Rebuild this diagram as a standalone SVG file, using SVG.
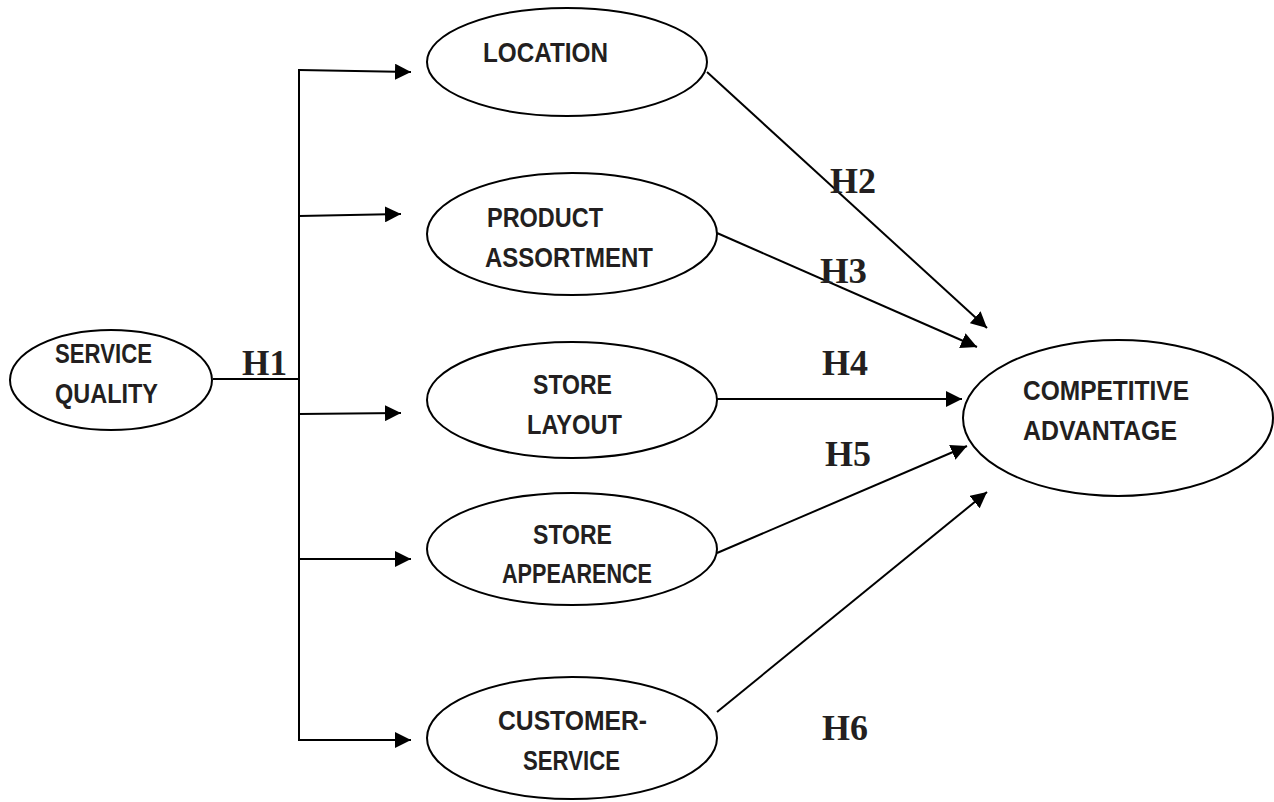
<svg xmlns="http://www.w3.org/2000/svg" width="1274" height="802" viewBox="0 0 1274 802">
<defs>
<style>
.node ellipse{fill:#fff;stroke:#000;stroke-width:2}
.node text{font-family:"Liberation Sans",Arial,sans-serif;font-weight:bold;font-size:27px;fill:#231f20}
.conn line,.conn polyline{stroke:#000;stroke-width:2;fill:none}
.arr{marker-end:url(#ah)}
.h{font-family:"Liberation Serif","Times New Roman",serif;font-weight:bold;font-size:35px;fill:#231f20}
</style>
<marker id="ah" markerUnits="userSpaceOnUse" markerWidth="18" markerHeight="16" refX="16" refY="8" orient="auto">
<path d="M0,0 L16,8 L0,16 Z" fill="#000"/>
</marker>
</defs>
<rect width="1274" height="802" fill="#fff"/>
<g class="conn">
<line x1="213" y1="379" x2="299" y2="379"/>
<line x1="299" y1="69" x2="299" y2="741"/>
<line class="arr" x1="299" y1="70" x2="411" y2="72"/>
<line class="arr" x1="299" y1="216" x2="401" y2="214"/>
<line class="arr" x1="299" y1="414" x2="401" y2="413"/>
<line class="arr" x1="299" y1="559" x2="411" y2="559"/>
<line class="arr" x1="299" y1="740" x2="411" y2="740"/>
<line class="arr" x1="707" y1="72" x2="987" y2="328"/>
<line class="arr" x1="717" y1="233" x2="977" y2="347"/>
<line class="arr" x1="717" y1="399" x2="962" y2="399"/>
<line class="arr" x1="717" y1="553" x2="967" y2="446"/>
<line class="arr" x1="717" y1="712" x2="987" y2="492"/>
</g>
<g id="labels">
<text class="h" x="242" y="375" textLength="45" lengthAdjust="spacingAndGlyphs">H1</text>
<text class="h" x="830" y="193" textLength="46" lengthAdjust="spacingAndGlyphs">H2</text>
<text class="h" x="820" y="283" textLength="47" lengthAdjust="spacingAndGlyphs">H3</text>
<text class="h" x="822" y="375" textLength="46" lengthAdjust="spacingAndGlyphs">H4</text>
<text class="h" x="825" y="466" textLength="46" lengthAdjust="spacingAndGlyphs">H5</text>
<text class="h" x="822" y="740" textLength="46" lengthAdjust="spacingAndGlyphs">H6</text>
</g>
<g id="service-quality" class="node">
<ellipse cx="111" cy="380" rx="101" ry="50"/>
<text x="55" y="363" textLength="97" lengthAdjust="spacingAndGlyphs">SERVICE</text>
<text x="55" y="403" textLength="103" lengthAdjust="spacingAndGlyphs">QUALITY</text>
</g>
<g id="location" class="node">
<ellipse cx="567" cy="62" rx="140" ry="54"/>
<text x="483" y="62" textLength="125" lengthAdjust="spacingAndGlyphs">LOCATION</text>
</g>
<g id="product-assortment" class="node">
<ellipse cx="572" cy="234" rx="145" ry="61"/>
<text x="487" y="227" textLength="116" lengthAdjust="spacingAndGlyphs">PRODUCT</text>
<text x="485" y="267" textLength="168" lengthAdjust="spacingAndGlyphs">ASSORTMENT</text>
</g>
<g id="store-layout" class="node">
<ellipse cx="572" cy="400" rx="145" ry="58"/>
<text x="533" y="394" textLength="79" lengthAdjust="spacingAndGlyphs">STORE</text>
<text x="527" y="434" textLength="95" lengthAdjust="spacingAndGlyphs">LAYOUT</text>
</g>
<g id="store-appearence" class="node">
<ellipse cx="572" cy="549" rx="145" ry="56"/>
<text x="533" y="544" textLength="79" lengthAdjust="spacingAndGlyphs">STORE</text>
<text x="502" y="583" textLength="150" lengthAdjust="spacingAndGlyphs">APPEARENCE</text>
</g>
<g id="customer-service" class="node">
<ellipse cx="572" cy="738" rx="145" ry="61"/>
<text x="498" y="730" textLength="149" lengthAdjust="spacingAndGlyphs">CUSTOMER-</text>
<text x="523" y="770" textLength="97" lengthAdjust="spacingAndGlyphs">SERVICE</text>
</g>
<g id="competitive-advantage" class="node">
<ellipse cx="1118" cy="418" rx="155" ry="78"/>
<text x="1023" y="400" textLength="166" lengthAdjust="spacingAndGlyphs">COMPETITIVE</text>
<text x="1023" y="440" textLength="154" lengthAdjust="spacingAndGlyphs">ADVANTAGE</text>
</g>
</svg>
